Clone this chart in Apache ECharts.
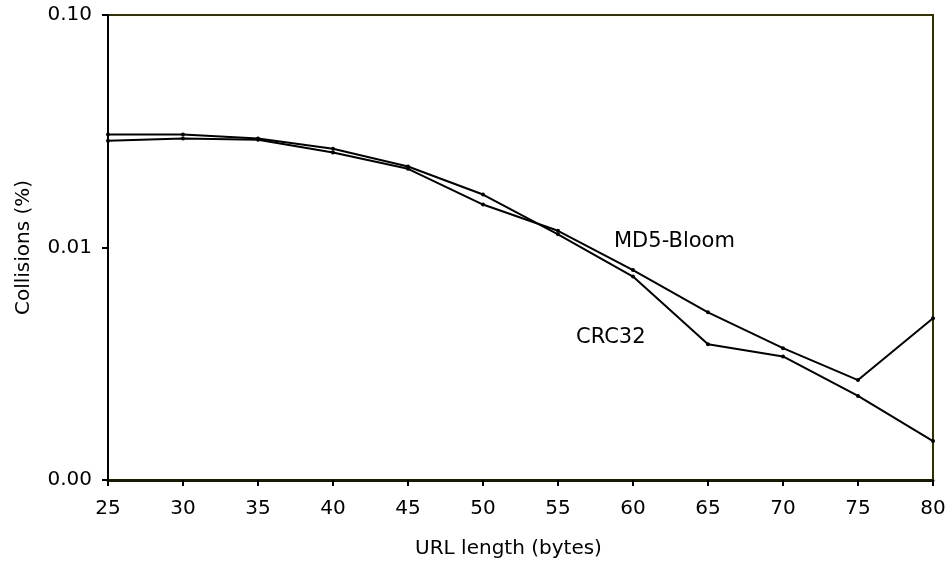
<!DOCTYPE html>
<html>
<head>
<meta charset="utf-8">
<script src="https://cdn.jsdelivr.net/npm/echarts@6/dist/echarts.min.js"></script>
<style>
  html, body { margin: 0; padding: 0; background: #fff; }
  #chart { width: 951px; height: 564px; }
</style>
</head>
<body>
<div id="chart"></div>
<script>
// URL length (bytes)
const urlLengths = [25, 30, 35, 40, 45, 50, 55, 60, 65, 70, 75, 80]
// collisions (%)
const crc32 = [0.0306, 0.0306, 0.0294, 0.0266, 0.0223, 0.0169, 0.0114, 0.0075, 0.00384, 0.0034, 0.0023, 0.00147]
const md5Bloom = [0.0288, 0.0294, 0.0291, 0.0256, 0.0218, 0.0153, 0.0118, 0.0080, 0.00526, 0.00369, 0.00269, 0.00496]

const font = 'DejaVu Sans, Verdana, sans-serif'
const fontSize = 20
const textColor = '#000'

const chart = echarts.init(document.getElementById('chart'))

const toPairs = (vals) => urlLengths.map((x, i) => [x, vals[i]])

const lineSeries = (name, vals) => ({
  name,
  type: 'line',
  data: toPairs(vals),
  symbol: 'circle',
  symbolSize: 4,
  lineStyle: { color: '#000', width: 2 },
  itemStyle: { color: '#000' },
  animation: false
})

chart.setOption({
  animation: false,
  grid: {
    left: 108,
    right: 18,
    top: 15,
    bottom: 83,
    show: true,
    borderColor: '#333300',
    borderWidth: 2
  },
  xAxis: {
    type: 'value',
    min: 25,
    max: 80,
    interval: 5,
    name: 'URL length (bytes)',
    nameLocation: 'middle',
    nameGap: 59,
    // title sits a little left of the plot centre
    nameTextStyle: { fontFamily: font, fontSize, color: textColor, padding: [0, 24, 0, 0] },
    axisLine: { lineStyle: { color: '#1a1a00', width: 3 } },
    axisTick: { inside: false, length: 6, lineStyle: { color: '#000', width: 2 } },
    axisLabel: { fontFamily: font, fontSize, color: textColor, margin: 19 },
    splitLine: { show: false }
  },
  yAxis: {
    type: 'log',
    logBase: 10,
    min: 0.001,
    max: 0.1,
    name: 'Collisions (%)',
    nameLocation: 'middle',
    nameGap: 74,
    nameTextStyle: { fontFamily: font, fontSize, color: textColor },
    axisLine: { lineStyle: { color: '#000', width: 2 } },
    axisTick: { inside: false, length: 6, lineStyle: { color: '#000', width: 2 } },
    axisLabel: {
      fontFamily: font,
      fontSize,
      color: textColor,
      margin: 16,
      formatter: (v) => Number(v).toFixed(2)
    },
    splitLine: { show: false },
    minorTick: { show: false }
  },
  series: [
    lineSeries('CRC32', crc32),
    lineSeries('MD5-Bloom', md5Bloom)
  ],
  graphic: [
    {
      type: 'text',
      left: 614,
      top: 231,
      style: { text: 'MD5-Bloom', fontFamily: font, fontSize: 21, fill: textColor }
    },
    {
      type: 'text',
      left: 576,
      top: 327,
      style: { text: 'CRC32', fontFamily: font, fontSize: 21, fill: textColor }
    }
  ]
})
</script>
</body>
</html>
